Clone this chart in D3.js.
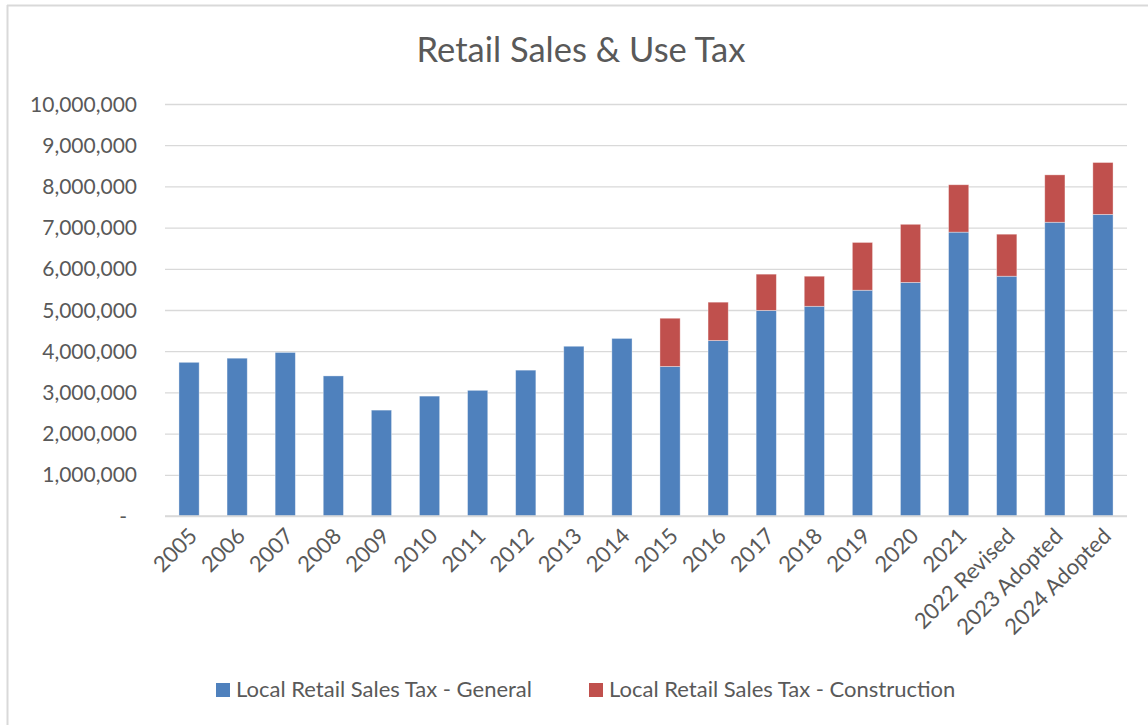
<!DOCTYPE html>
<html>
<head>
<meta charset="utf-8">
<script src="https://cdn.jsdelivr.net/npm/d3@7"></script>
<style>
  html, body { margin: 0; padding: 0; background: #fff; }
  svg { display: block; }
  text { font-family: Lato, "Open Sans", "Noto Sans", sans-serif; fill: #595959; }
</style>
</head>
<body>
<svg id="chart" width="1148" height="725"></svg>
<script>
// Fiscal years shown on the category axis
const categories = ["2005", "2006", "2007", "2008", "2009", "2010", "2011", "2012", "2013", "2014",
  "2015", "2016", "2017", "2018", "2019", "2020", "2021", "2022 Revised", "2023 Adopted", "2024 Adopted"];

// Local Retail Sales Tax - General
const generalValues = [3730000, 3830000, 3970000, 3400000, 2570000, 2910000, 3050000, 3540000, 4120000, 4310000,
  3630000, 4260000, 4990000, 5090000, 5480000, 5670000, 6890000, 5820000, 7130000, 7320000];

// Local Retail Sales Tax - Construction
const constructionValues = [0, 0, 0, 0, 0, 0, 0, 0, 0, 0,
  1170000, 930000, 880000, 730000, 1160000, 1410000, 1150000, 1020000, 1150000, 1260000];

const seriesNames = ["Local Retail Sales Tax - General", "Local Retail Sales Tax - Construction"];
const seriesColors = ["#4F81BD", "#C0504D"];
const yTicks = [0, 1000000, 2000000, 3000000, 4000000, 5000000, 6000000, 7000000, 8000000, 9000000, 10000000];

const svg = d3.select("#chart");

// Chart frame (left and top edges)
svg.append("line").attr("x1", 7.5).attr("x2", 7.5).attr("y1", 5).attr("y2", 725)
  .attr("stroke", "#D9D9D9").attr("stroke-width", 2);
svg.append("line").attr("x1", 7).attr("x2", 1148).attr("y1", 5.5).attr("y2", 5.5)
  .attr("stroke", "#D9D9D9").attr("stroke-width", 2);

const plot = { left: 165, right: 1127, top: 104, bottom: 516 };

const x = d3.scaleBand()
  .domain(categories)
  .range([plot.left, plot.right])
  .paddingInner(0.58)
  .paddingOuter(0.29);

const y = d3.scaleLinear()
  .domain([0, 10000000])
  .range([plot.bottom, plot.top]);

// Title
svg.append("text")
  .attr("x", 581).attr("y", 62)
  .attr("text-anchor", "middle")
  .style("font-size", "34.5px")
  .text("Retail Sales & Use Tax");

// Y axis with gridlines
const fmt = d3.format(",");
const yAxis = d3.axisLeft(y)
  .tickValues(yTicks)
  .tickSize(-(plot.right - plot.left))
  .tickPadding(28)
  .tickFormat(d => d === 0 ? "-" : fmt(d));

const yg = svg.append("g")
  .attr("transform", `translate(${plot.left},0)`)
  .call(yAxis);
yg.select(".domain").remove();
yg.selectAll(".tick line").attr("stroke", "#D9D9D9").attr("stroke-width", 1.3);
yg.selectAll(".tick text")
  .style("font-size", "21px")
  .attr("fill", "#595959")
  .attr("dy", "0.34em");
yg.selectAll(".tick").filter(d => d === 0).select("text").attr("dx", -10);

// Stacked bars
const stackData = categories.map((c, i) => ({ cat: c, general: generalValues[i], construction: constructionValues[i] }));
const stack = d3.stack().keys(["general", "construction"]);
const layers = stack(stackData);

svg.append("g").selectAll("g")
  .data(layers)
  .join("g")
  .attr("fill", (d, i) => seriesColors[i])
  .selectAll("rect")
  .data(d => d.filter(p => p[1] - p[0] > 0))
  .join("rect")
  .attr("x", d => x(d.data.cat))
  .attr("width", x.bandwidth())
  .attr("y", d => y(d[1]))
  .attr("height", d => y(d[0]) - y(d[1]))
  .attr("stroke", "#ffffff")
  .attr("stroke-opacity", 0.45)
  .attr("stroke-width", 0.8);

// X axis baseline
svg.append("line")
  .attr("x1", plot.left).attr("x2", plot.right)
  .attr("y1", plot.bottom).attr("y2", plot.bottom)
  .attr("stroke", "#D9D9D9").attr("stroke-width", 1.3);

// Rotated category labels
const xAxis = d3.axisBottom(x).tickSize(0).tickPadding(0);
const xg = svg.append("g")
  .attr("transform", `translate(0,${plot.bottom})`)
  .call(xAxis);
xg.select(".domain").remove();
xg.selectAll(".tick text")
  .style("font-size", "22px")
  .attr("fill", "#595959")
  .attr("text-anchor", "end")
  .attr("x", 0).attr("y", 0)
  .attr("dy", "0.35em")
  .attr("transform", "translate(4,16) rotate(-45)");

// Legend
const legendItems = [
  { name: seriesNames[0], color: seriesColors[0], x: 216 },
  { name: seriesNames[1], color: seriesColors[1], x: 589 }
];
const lg = svg.append("g").selectAll("g")
  .data(legendItems)
  .join("g")
  .attr("transform", d => `translate(${d.x},683)`);
lg.append("rect").attr("width", 14).attr("height", 14).attr("fill", d => d.color);
lg.append("text")
  .attr("x", 20).attr("y", 14)
  .style("font-size", "22px")
  .text(d => d.name);
</script>
</body>
</html>
